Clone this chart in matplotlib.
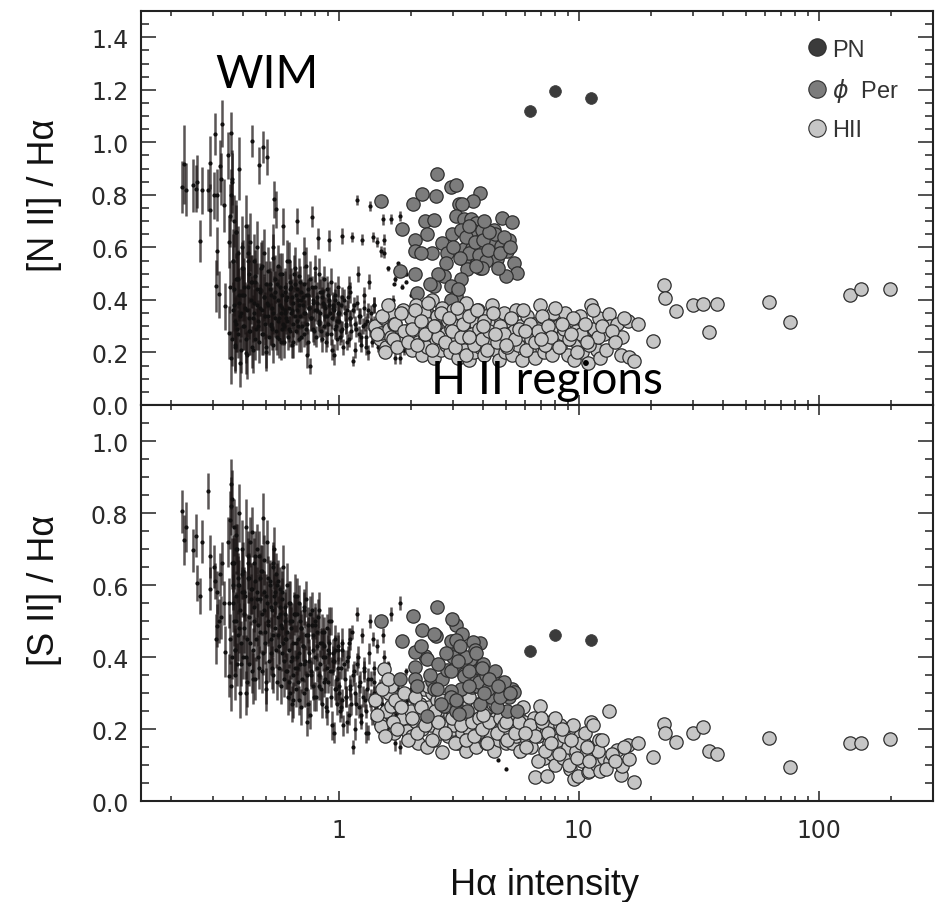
import matplotlib
matplotlib.use("Agg")
import matplotlib.pyplot as plt
from matplotlib.lines import Line2D
from matplotlib.ticker import FixedLocator, MultipleLocator, LogLocator, NullFormatter, FormatStrFormatter

# ---------------- data ----------------
# WIM sight lines: H-alpha intensity, [N II]/Ha (+err), [S II]/Ha (+err)
wim_x = [0.222,0.226,0.232,0.246,0.254,0.258,0.264,0.270,0.286,0.290,0.292,0.302,0.305,0.310,0.320,0.322,0.326,0.333,0.335,0.307,0.312,0.318,
         0.345,0.348,0.350,0.352,0.355,0.357,0.358,0.360,0.362,0.365,0.368,0.370,0.372,0.375,0.378,0.380,0.385,0.390,0.395,0.400,
         0.405,0.41,0.415,0.42,0.425,0.43,0.435,0.44,0.445,0.45,0.455,0.46,0.465,0.47,0.475,0.48,0.485,0.49,0.495,0.50,
         0.505,0.51,0.515,0.52,0.525,0.53,0.535,0.54,0.545,0.55,0.555,0.56,0.565,0.57,0.575,0.58,0.585,0.59,0.595,0.60,
         0.605,0.61,0.62,0.625,0.63,0.64,0.645,0.65,0.66,0.665,0.67,0.68,0.685,0.69,0.70,0.71,0.715,0.72,0.73,0.74,
         0.745,0.75,0.76,0.77,0.775,0.78,0.79,0.80,0.81,0.82,0.83,0.84,0.85,0.86,0.87,0.88,0.89,0.90,0.91,0.92,
         0.935,0.95,0.96,0.975,0.99,
         1.0,1.02,1.036,1.05,1.07,1.08,1.1,1.12,1.14,1.145,1.16,1.18,1.19,1.2,1.22,1.24,1.25,1.27,1.29,1.3,
         1.32,1.34,1.35,1.37,1.39,1.4,1.42,1.45,1.47,1.49,
         1.5,1.53,1.54,1.545,1.57,1.6,1.62,1.66,1.68,1.71,1.72,1.75,1.78,1.8,1.81,1.84,1.87,1.9,1.93,1.96,
         2.0,2.04,2.08,2.13,2.18,
         4.3,4.6,5.0,5.6]
wim_nii = [0.830,0.916,0.820,0.836,0.824,0.850,0.624,0.818,0.818,0.923,0.742,0.798,1.030,0.586,0.910,0.860,1.071,0.760,0.376,0.453,0.800,0.421,
           0.950,0.275,0.620,0.450,0.800,1.037,0.860,0.250,0.550,0.700,0.380,0.320,0.480,0.660,0.290,0.580,0.420,0.350,0.520,0.300,
           0.42,0.199,0.36,0.55,0.28,0.47,1.005,0.33,0.39,0.25,0.44,0.30,0.912,0.37,0.52,0.27,0.983,0.41,0.34,0.22,
           0.944,0.38,0.46,0.31,0.29,0.60,0.35,0.783,0.43,0.745,0.26,0.40,0.33,0.50,0.24,0.37,0.68,0.30,0.45,0.35,
           0.40,0.32,0.55,0.28,0.45,0.36,0.24,0.50,0.34,0.42,0.70,0.30,0.38,0.47,0.26,0.41,0.35,0.58,0.29,0.19,
           0.44,0.37,0.148,0.33,0.717,0.40,0.28,0.52,0.36,0.634,0.31,0.43,0.25,0.39,0.48,0.34,0.27,0.42,0.628,0.35,
           0.21,0.38,0.192,0.30,0.45,
           0.35,0.28,0.643,0.40,0.31,0.24,0.45,0.33,0.64,0.167,0.38,0.29,0.78,0.50,0.34,0.26,0.63,0.42,0.31,0.22,
           0.36,0.47,0.757,0.30,0.64,0.38,0.27,0.62,0.33,0.24,
           0.585,0.707,0.63,0.58,0.30,0.52,0.25,0.709,0.40,0.177,0.48,0.33,0.27,0.719,0.177,0.45,0.22,0.50,0.36,0.28,
           0.42,0.31,0.24,0.38,0.26,
           0.30,0.28,0.25,0.27]
wim_nii_err = [0.10,0.15,0.10,0.10,0.09,0.10,0.08,0.09,0.08,0.10,0.10,0.09,0.08,0.09,0.10,0.10,0.09,0.10,0.09,0.10,0.10,0.09,
               0.09,0.10,0.10,0.10,0.10,0.08,0.10,0.10,0.10,0.10,0.10,0.09,0.10,0.10,0.09,0.10,0.10,0.09,0.10,0.09,
               0.10,0.08,0.10,0.10,0.09,0.10,0.06,0.09,0.10,0.08,0.10,0.09,0.07,0.09,0.10,0.08,0.06,0.09,0.09,0.08,
               0.07,0.08,0.09,0.08,0.08,0.09,0.08,0.07,0.08,0.07,0.07,0.08,0.07,0.08,0.07,0.07,0.07,0.07,0.07,0.07,
               0.07,0.06,0.07,0.06,0.07,0.06,0.06,0.07,0.06,0.06,0.05,0.06,0.06,0.06,0.06,0.06,0.05,0.06,0.06,0.05,
               0.06,0.05,0.03,0.05,0.04,0.05,0.05,0.05,0.05,0.04,0.05,0.05,0.05,0.05,0.05,0.05,0.05,0.05,0.04,0.05,
               0.04,0.05,0.04,0.04,0.04,
               0.04,0.04,0.03,0.04,0.04,0.03,0.04,0.03,0.02,0.02,0.03,0.03,0.02,0.03,0.03,0.03,0.02,0.03,0.03,0.03,
               0.03,0.03,0.02,0.03,0.02,0.03,0.03,0.02,0.03,0.03,
               0.02,0.02,0.02,0.02,0.03,0.01,0.03,0.02,0.02,0.02,0.01,0.02,0.02,0.02,0.02,0.01,0.02,0.01,0.02,0.02,
               0.01,0.02,0.02,0.01,0.02,
               0.005,0.005,0.005,0.005]
wim_sii = [0.805,0.725,0.762,0.697,0.737,0.607,0.570,0.721,0.860,0.680,0.590,0.651,0.610,0.487,0.630,0.510,0.660,0.550,0.415,0.450,0.580,0.500,
           0.720,0.348,0.550,0.450,0.820,0.880,0.660,0.400,0.600,0.760,0.500,0.420,0.570,0.700,0.380,0.620,0.480,0.440,0.580,0.400,
           0.52,0.30,0.45,0.62,0.38,0.56,0.747,0.42,0.50,0.34,0.58,0.40,0.68,0.47,0.64,0.36,0.785,0.53,0.44,0.31,
           0.72,0.49,0.60,0.41,0.37,0.66,0.46,0.70,0.55,0.63,0.33,0.51,0.43,0.59,0.32,0.48,0.65,0.39,0.54,0.45,
           0.45,0.36,0.55,0.30,0.48,0.40,0.28,0.52,0.37,0.44,0.57,0.33,0.41,0.50,0.26,0.43,0.38,0.54,0.31,0.22,
           0.46,0.39,0.24,0.35,0.53,0.42,0.29,0.49,0.37,0.51,0.32,0.44,0.27,0.40,0.47,0.34,0.25,0.42,0.50,0.36,
           0.21,0.39,0.19,0.31,0.43,
           0.32,0.26,0.42,0.38,0.29,0.22,0.44,0.31,0.47,0.15,0.36,0.27,0.52,0.40,0.32,0.24,0.46,0.37,0.28,0.19,
           0.34,0.41,0.50,0.28,0.45,0.33,0.25,0.43,0.30,0.21,
           0.30,0.46,0.40,0.36,0.24,0.38,0.20,0.52,0.32,0.16,0.34,0.26,0.22,0.55,0.15,0.33,0.19,0.36,0.28,0.21,
           0.31,0.24,0.17,0.27,0.20,
           0.13,0.115,0.09,0.125]
wim_sii_err = [0.06,0.07,0.07,0.06,0.06,0.05,0.05,0.06,0.05,0.06,0.06,0.06,0.05,0.06,0.06,0.06,0.06,0.06,0.07,0.07,0.06,0.06,
               0.07,0.06,0.07,0.07,0.08,0.07,0.07,0.06,0.07,0.08,0.07,0.06,0.07,0.07,0.06,0.07,0.07,0.06,0.07,0.06,
               0.07,0.06,0.07,0.07,0.06,0.07,0.07,0.06,0.07,0.06,0.07,0.06,0.07,0.06,0.07,0.06,0.07,0.06,0.06,0.06,
               0.06,0.06,0.06,0.06,0.06,0.06,0.06,0.06,0.06,0.06,0.05,0.06,0.05,0.06,0.05,0.05,0.06,0.05,0.05,0.05,
               0.06,0.05,0.06,0.05,0.06,0.05,0.05,0.06,0.05,0.05,0.05,0.05,0.05,0.05,0.05,0.05,0.05,0.05,0.05,0.04,
               0.05,0.04,0.04,0.04,0.05,0.04,0.04,0.05,0.04,0.05,0.04,0.04,0.04,0.04,0.04,0.04,0.04,0.04,0.04,0.04,
               0.04,0.04,0.03,0.04,0.04,
               0.04,0.03,0.03,0.04,0.03,0.03,0.04,0.03,0.02,0.02,0.03,0.03,0.02,0.03,0.03,0.03,0.02,0.03,0.03,0.03,
               0.03,0.03,0.02,0.03,0.02,0.03,0.03,0.02,0.03,0.03,
               0.02,0.02,0.02,0.02,0.02,0.01,0.02,0.02,0.02,0.02,0.01,0.02,0.02,0.02,0.02,0.01,0.02,0.01,0.02,0.02,
               0.01,0.02,0.02,0.01,0.02,
               0.005,0.005,0.005,0.005]

# second batch of WIM sight lines (the dense band)
wimb_x = [0.362,0.366,0.371,0.374,0.377,0.382,0.386,0.388,0.392,0.397,
          0.402,0.407,0.412,0.417,0.422,0.427,0.432,0.437,0.442,0.447,
          0.452,0.457,0.462,0.467,0.472,0.477,0.482,0.487,0.492,0.497,
          0.502,0.508,0.513,0.518,0.523,0.528,0.533,0.538,0.543,0.548,
          0.553,0.558,0.563,0.568,0.573,0.578,0.583,0.588,0.593,0.598,
          0.603,0.608,0.614,0.618,0.623,0.628,0.634,0.638,0.643,0.648,
          0.655,0.662,0.668,0.673,0.678,0.683,0.688,0.695,0.703,0.708,
          0.718,0.725,0.733,0.738,0.748,0.755,0.765,0.772,0.785,0.795,
          0.805,0.815,0.825,0.835,0.845,0.855,0.865,0.875,0.885,0.895,
          0.905,0.915,0.928,0.94,0.955,0.965,0.97,0.98,0.985,0.995,
          1.005,1.015,1.025,1.035,1.045,1.06,1.075,1.09,1.105,1.115,
          1.13,1.15,1.165,1.175,1.195,1.21,1.23,1.245,1.26,1.28,
          1.295,1.31,1.33,1.345,1.36,1.38,1.40,1.41,1.43,1.46,
          1.48,1.51,1.55,1.58,1.61,1.64,1.67,1.70,1.73,1.76,
          1.79,1.82,1.85,1.88,1.91,1.64,1.70,1.76,1.84,1.90]
wimb_nii = [0.36,0.44,0.23,0.31,0.48,0.27,0.39,0.34,0.21,0.42,
            0.30,0.37,0.25,0.45,0.33,0.28,0.40,0.22,0.35,0.47,
            0.29,0.38,0.32,0.24,0.43,0.36,0.27,0.41,0.31,0.20,
            0.39,0.34,0.26,0.44,0.30,0.37,0.23,0.41,0.33,0.28,
            0.46,0.32,0.25,0.38,0.35,0.29,0.42,0.31,0.24,0.36,
            0.33,0.41,0.26,0.37,0.29,0.44,0.35,0.23,0.39,0.31,
            0.46,0.28,0.36,0.32,0.40,0.25,0.34,0.43,0.30,0.38,
            0.27,0.35,0.42,0.31,0.24,0.37,0.33,0.45,0.29,0.36,
            0.26,0.39,0.32,0.35,0.28,0.41,0.30,0.37,0.24,0.34,
            0.31,0.38,0.27,0.33,0.36,0.29,0.40,0.32,0.25,0.35,
            0.32,0.26,0.38,0.29,0.22,0.35,0.30,0.41,0.25,0.33,
            0.28,0.36,0.21,0.31,0.39,0.27,0.34,0.23,0.30,0.37,
            0.26,0.32,0.20,0.29,0.35,0.24,0.31,0.38,0.27,0.22,
            0.33,0.28,0.24,0.31,0.26,0.35,0.22,0.29,0.25,0.32,
            0.23,0.30,0.27,0.21,0.28,0.40,0.46,0.54,0.52,0.47]
wimb_nii_err = [0.11,0.10,0.10,0.11,0.10,0.09,0.10,0.10,0.09,0.10,
                0.09,0.10,0.09,0.09,0.08,0.09,0.09,0.08,0.09,0.09,
                0.08,0.09,0.08,0.08,0.09,0.08,0.08,0.08,0.08,0.07,
                0.08,0.08,0.07,0.08,0.07,0.08,0.07,0.08,0.07,0.07,
                0.07,0.07,0.07,0.07,0.07,0.06,0.07,0.07,0.06,0.07,
                0.06,0.06,0.05,0.06,0.05,0.06,0.06,0.05,0.06,0.05,
                0.06,0.05,0.05,0.05,0.05,0.05,0.05,0.05,0.05,0.05,
                0.05,0.05,0.05,0.04,0.05,0.04,0.05,0.04,0.05,0.04,
                0.04,0.04,0.04,0.04,0.04,0.04,0.04,0.04,0.04,0.04,
                0.04,0.04,0.04,0.04,0.03,0.04,0.04,0.03,0.04,0.04,
                0.04,0.03,0.04,0.03,0.03,0.03,0.03,0.04,0.03,0.03,
                0.03,0.03,0.03,0.03,0.03,0.03,0.03,0.03,0.03,0.03,
                0.03,0.03,0.03,0.03,0.03,0.02,0.03,0.03,0.02,0.02,
                0.02,0.02,0.02,0.02,0.02,0.02,0.02,0.02,0.02,0.02,
                0.02,0.02,0.02,0.02,0.02,0.005,0.005,0.005,0.005,0.005]
wimb_sii = [0.55,0.66,0.42,0.50,0.70,0.46,0.60,0.53,0.38,0.63,
            0.48,0.57,0.40,0.66,0.51,0.44,0.59,0.36,0.54,0.68,
            0.45,0.56,0.49,0.37,0.62,0.52,0.41,0.58,0.47,0.33,
            0.55,0.50,0.39,0.61,0.45,0.53,0.35,0.57,0.48,0.42,
            0.60,0.46,0.37,0.52,0.49,0.41,0.56,0.44,0.34,0.50,
            0.36,0.47,0.29,0.42,0.33,0.50,0.39,0.27,0.44,0.35,
            0.52,0.31,0.40,0.37,0.45,0.28,0.38,0.48,0.34,0.43,
            0.30,0.39,0.46,0.35,0.27,0.41,0.36,0.49,0.32,0.40,
            0.29,0.43,0.35,0.38,0.31,0.44,0.33,0.40,0.26,0.37,
            0.33,0.41,0.29,0.36,0.39,0.31,0.42,0.34,0.27,0.37,
            0.30,0.25,0.37,0.28,0.21,0.34,0.29,0.40,0.24,0.32,
            0.27,0.35,0.20,0.30,0.38,0.26,0.33,0.22,0.29,0.36,
            0.25,0.31,0.19,0.28,0.34,0.23,0.30,0.37,0.26,0.21,
            0.32,0.27,0.23,0.30,0.25,0.33,0.20,0.28,0.24,0.31,
            0.22,0.29,0.26,0.18,0.27,0.30,0.25,0.33,0.28,0.23]
wimb_sii_err = [0.08,0.07,0.07,0.08,0.07,0.07,0.07,0.07,0.06,0.07,
                0.07,0.07,0.06,0.07,0.07,0.06,0.07,0.06,0.07,0.07,
                0.06,0.07,0.06,0.06,0.07,0.06,0.06,0.06,0.06,0.06,
                0.06,0.06,0.06,0.06,0.06,0.06,0.05,0.06,0.06,0.05,
                0.06,0.05,0.05,0.06,0.05,0.05,0.06,0.05,0.05,0.05,
                0.05,0.05,0.05,0.05,0.05,0.05,0.05,0.05,0.05,0.05,
                0.05,0.05,0.05,0.04,0.05,0.04,0.05,0.04,0.04,0.04,
                0.04,0.04,0.04,0.04,0.04,0.04,0.04,0.04,0.04,0.04,
                0.04,0.04,0.04,0.04,0.04,0.04,0.04,0.04,0.03,0.04,
                0.03,0.04,0.03,0.04,0.03,0.03,0.04,0.03,0.03,0.03,
                0.03,0.03,0.03,0.03,0.03,0.03,0.03,0.03,0.03,0.03,
                0.03,0.03,0.03,0.03,0.03,0.03,0.03,0.02,0.03,0.03,
                0.02,0.03,0.02,0.02,0.02,0.02,0.02,0.02,0.02,0.02,
                0.02,0.02,0.02,0.02,0.02,0.02,0.02,0.02,0.02,0.02,
                0.02,0.02,0.02,0.02,0.02,0.01,0.01,0.01,0.01,0.01]

# third batch of WIM sight lines (upper part of the band, long error bars)
wimc_x = [0.352,0.356,0.361,0.364,0.369,0.373,0.379,0.384,0.389,0.394,
          0.399,0.404,0.409,0.414,0.419,0.424,0.429,0.434,0.439,0.444,
          0.449,0.458,0.468,0.478,0.488,0.498,0.51,0.52,0.532,0.545,
          0.558,0.57,0.582,0.595,0.61,0.625,0.64,0.655,0.67,0.685,
          0.70,0.715,0.73,0.745,0.76,0.778,0.795,0.812,0.83,0.85,
          0.87,0.89,0.91,0.93,0.95,0.97,0.99,1.03,1.08,1.12]
wimc_nii = [0.72,0.18,0.85,0.55,0.22,0.66,0.48,0.90,0.16,0.60,
            0.52,0.45,0.68,0.19,0.58,0.50,0.62,0.47,0.21,0.55,
            0.49,0.60,0.44,0.53,0.58,0.46,0.51,0.42,0.56,0.48,
            0.53,0.45,0.50,0.43,0.55,0.47,0.41,0.52,0.44,0.49,
            0.40,0.46,0.53,0.42,0.48,0.39,0.45,0.41,0.50,0.43,
            0.38,0.44,0.40,0.47,0.37,0.42,0.39,0.41,0.36,0.43]
wimc_nii_err = [0.12,0.10,0.12,0.12,0.10,0.12,0.11,0.12,0.09,0.12,
                0.11,0.11,0.12,0.09,0.11,0.11,0.11,0.10,0.09,0.10,
                0.10,0.10,0.10,0.10,0.09,0.09,0.09,0.09,0.09,0.09,
                0.08,0.08,0.08,0.08,0.08,0.08,0.07,0.08,0.07,0.07,
                0.07,0.07,0.07,0.06,0.07,0.06,0.06,0.06,0.06,0.06,
                0.06,0.05,0.05,0.05,0.05,0.05,0.05,0.04,0.04,0.04]
wimc_sii = [0.78,0.32,0.84,0.66,0.35,0.74,0.60,0.80,0.30,0.70,
            0.64,0.58,0.76,0.33,0.68,0.62,0.72,0.59,0.34,0.66,
            0.61,0.70,0.56,0.64,0.67,0.57,0.62,0.54,0.65,0.58,
            0.61,0.54,0.58,0.52,0.60,0.55,0.50,0.57,0.52,0.55,
            0.48,0.53,0.56,0.49,0.52,0.46,0.50,0.47,0.53,0.47,
            0.43,0.48,0.44,0.50,0.41,0.45,0.42,0.44,0.39,0.45]
wimc_sii_err = [0.08,0.07,0.08,0.08,0.07,0.08,0.08,0.08,0.07,0.08,
                0.08,0.07,0.08,0.07,0.07,0.07,0.07,0.07,0.07,0.07,
                0.07,0.07,0.07,0.07,0.07,0.06,0.06,0.06,0.06,0.06,
                0.06,0.06,0.06,0.06,0.06,0.06,0.05,0.06,0.05,0.05,
                0.05,0.05,0.05,0.05,0.05,0.05,0.05,0.05,0.05,0.05,
                0.05,0.04,0.04,0.04,0.04,0.04,0.04,0.04,0.03,0.03]

# phi Per region
per_x = [1.50,2.56,2.05,2.23,2.54,2.93,3.07,3.88,3.64,3.16,3.28,2.30,2.50,3.07,3.33,3.55,3.72,4.81,5.26,1.83,
         2.09,2.34,2.98,3.22,3.61,3.97,4.44,5.12,2.09,2.46,2.70,2.84,3.33,3.61,3.97,4.37,4.73,5.04,5.37,5.55,
         4.96,3.33,3.78,4.30,4.58,3.44,3.90,3.22,1.81,2.09,2.13,2.50,2.75,2.93,3.07,2.93,2.66,3.17,3.07,2.34,2.58,
         3.4,3.5,3.7,3.85,4.0,4.1,4.2,4.5,4.7,3.0,3.2,2.8,2.6,4.9,5.2,3.95,4.25,2.4,2.2,3.5,3.75,4.05,2.95,3.15,4.6]
per_nii = [0.776,0.878,0.764,0.802,0.795,0.830,0.836,0.808,0.776,0.764,0.764,0.700,0.706,0.720,0.707,0.707,0.694,0.713,0.696,0.669,
           0.630,0.650,0.650,0.668,0.668,0.668,0.668,0.630,0.586,0.580,0.618,0.580,0.592,0.599,0.599,0.611,0.605,0.586,0.542,0.503,
           0.490,0.554,0.560,0.560,0.554,0.516,0.523,0.478,0.510,0.497,0.427,0.453,0.490,0.453,0.414,0.376,0.338,0.338,0.288,0.351,0.275,
           0.64,0.58,0.62,0.57,0.63,0.55,0.59,0.65,0.58,0.60,0.56,0.54,0.50,0.64,0.60,0.52,0.66,0.46,0.58,0.68,0.53,0.70,0.40,0.44,0.52]
per_sii = [0.500,0.538,0.515,0.476,0.459,0.444,0.489,0.438,0.443,0.422,0.464,0.404,0.464,0.448,0.367,0.394,0.362,0.325,0.311,0.445,
           0.413,0.394,0.506,0.376,0.339,0.378,0.334,0.290,0.371,0.334,0.339,0.365,0.353,0.316,0.339,0.316,0.311,0.251,0.302,0.251,
           0.300,0.348,0.320,0.290,0.260,0.251,0.270,0.311,0.339,0.339,0.320,0.311,0.265,0.306,0.251,0.290,0.270,0.242,0.280,0.237,0.311,
           0.40,0.36,0.42,0.33,0.38,0.35,0.31,0.36,0.29,0.40,0.43,0.41,0.38,0.33,0.30,0.37,0.34,0.35,0.43,0.32,0.41,0.30,0.36,0.39,0.32]

# H II regions
hii_x = [1.42,1.48,1.50,1.54,1.58,1.62,1.65,1.66,1.70,1.78,1.85,1.93,
         2.0,2.03,2.06,2.1,2.14,2.18,2.22,2.26,2.3,2.34,2.38,2.42,2.46,2.5,2.54,2.58,2.62,2.66,2.7,2.75,2.8,2.85,2.9,2.95,2.99,
         3.02,3.08,3.14,3.2,3.26,3.32,3.38,3.44,3.5,3.56,3.62,3.68,3.75,3.82,3.9,3.97,4.05,4.12,4.2,4.28,4.36,4.44,4.52,4.6,4.68,4.76,4.84,4.9,4.95,5.0,
         5.1,5.2,5.3,5.4,5.5,5.6,5.7,5.8,5.95,6.1,6.2,6.35,6.5,6.6,6.75,6.9,7.0,7.15,7.3,7.4,7.5,7.6,7.75,7.85,8.0,
         8.2,8.4,8.6,8.8,9.0,9.2,9.4,9.6,9.8,9.9,10.1,10.3,10.5,10.7,10.9,11.0,11.3,11.6,11.9,12.2,12.3,12.7,
         13.4,13.5,14.5,15.0,15.2,16.0,16.2,17.1,17.6,
         20.4,22.8,22.9,25.4,30.0,33.1,34.9,37.8,61.9,75.9,135.0,150.6,198.0,
         1.45,1.52,1.56,1.60,1.68,1.72,1.75,1.82,1.88,1.95,
         2.02,2.08,2.12,2.2,2.28,2.36,2.44,2.52,2.6,2.68,
         2.78,2.88,2.97,3.05,3.12,3.22,3.3,3.4,3.48,3.58,
         3.66,3.78,3.86,3.94,4.02,4.15,4.25,4.4,4.55,4.72,
         4.88,5.05,5.25,5.45,5.65,5.85,6.05,6.3,6.55,6.8,
         7.05,7.25,7.45,7.7,7.95,8.3,8.7,9.1,9.5,9.85,
         10.2,10.6,11.1,11.5,12.0,12.5,13.0,13.8,14.2,15.5,
         3.5,4.0,4.5,5.0,2.5,6.0,7.0,8.5,9.3,10.8]
hii_nii = [0.30,0.25,0.275,0.33,0.22,0.29,0.345,0.26,0.31,0.24,0.36,0.28,
           0.33,0.21,0.27,0.38,0.24,0.30,0.19,0.35,0.26,0.22,0.31,0.28,0.40,0.18,0.25,0.34,0.29,0.21,0.37,0.27,0.23,0.32,0.20,0.29,0.36,
           0.24,0.30,0.18,0.35,0.27,0.21,0.39,0.29,0.17,0.33,0.25,0.20,0.31,0.36,0.22,0.28,0.19,0.34,0.26,0.23,0.38,0.30,0.21,0.27,0.17,0.32,0.24,0.35,0.20,0.29,
           0.26,0.32,0.19,0.28,0.36,0.23,0.30,0.17,0.27,0.34,0.21,0.25,0.31,0.18,0.29,0.38,0.24,0.20,0.33,0.27,0.22,0.30,0.19,0.35,0.26,
           0.30,0.22,0.27,0.35,0.19,0.25,0.32,0.17,0.28,0.23,0.34,0.20,0.26,0.30,0.16,0.24,0.38,0.29,0.21,0.33,0.18,0.27,
           0.345,0.30,0.307,0.192,0.26,0.319,0.183,0.167,0.309,
           0.243,0.455,0.408,0.356,0.379,0.386,0.276,0.386,0.394,0.317,0.420,0.443,0.443,
           0.27,0.34,0.20,0.38,0.25,0.31,0.22,0.35,0.28,0.24,
           0.29,0.36,0.23,0.32,0.27,0.39,0.21,0.30,0.26,0.35,
           0.24,0.33,0.28,0.22,0.37,0.26,0.31,0.19,0.34,0.27,
           0.23,0.36,0.29,0.25,0.32,0.21,0.28,0.35,0.24,0.30,
           0.27,0.22,0.33,0.25,0.29,0.36,0.21,0.31,0.24,0.28,
           0.34,0.23,0.30,0.26,0.37,0.22,0.29,0.25,0.33,0.20,
           0.27,0.31,0.23,0.36,0.26,0.30,0.21,0.28,0.24,0.33,
           0.26,0.30,0.27,0.23,0.30,0.28,0.25,0.31,0.27,0.24]
hii_sii = [0.28,0.22,0.209,0.367,0.25,0.30,0.265,0.32,0.19,0.27,0.23,0.195,
           0.25,0.18,0.29,0.22,0.16,0.27,0.20,0.31,0.24,0.15,0.26,0.21,0.30,0.17,0.23,0.28,0.19,0.25,0.135,0.22,0.27,0.18,0.24,0.29,0.20,
           0.21,0.27,0.16,0.24,0.19,0.23,0.14,0.26,0.20,0.17,0.25,0.22,0.15,0.27,0.18,0.21,0.24,0.16,0.22,0.19,0.26,0.14,0.23,0.20,0.17,0.25,0.21,0.18,0.24,0.16,
           0.20,0.23,0.16,0.21,0.18,0.24,0.14,0.19,0.22,0.17,0.20,0.15,0.23,0.066,0.18,0.265,0.21,0.12,0.19,0.07,0.16,0.22,0.13,0.18,0.10,
           0.17,0.21,0.12,0.19,0.15,0.09,0.20,0.061,0.14,0.069,0.18,0.11,0.16,0.13,0.08,0.084,0.22,0.15,0.10,0.17,0.084,0.12,
           0.251,0.112,0.143,0.073,0.097,0.157,0.117,0.054,0.160,
           0.123,0.214,0.189,0.163,0.189,0.205,0.138,0.132,0.175,0.094,0.160,0.160,0.172,
           0.24,0.31,0.18,0.34,0.22,0.28,0.20,0.26,0.30,0.17,
           0.23,0.29,0.19,0.26,0.21,0.32,0.17,0.25,0.22,0.28,
           0.19,0.26,0.23,0.16,0.28,0.21,0.25,0.17,0.27,0.22,
           0.18,0.26,0.23,0.20,0.25,0.16,0.22,0.27,0.19,0.23,
           0.21,0.17,0.24,0.19,0.22,0.26,0.15,0.21,0.18,0.11,
           0.22,0.14,0.19,0.16,0.23,0.13,0.18,0.10,0.21,0.12,
           0.16,0.19,0.11,0.21,0.14,0.17,0.09,0.13,0.11,0.15,
           0.29,0.24,0.27,0.22,0.33,0.19,0.23,0.20,0.17,0.15]

# planetary nebula
pn_x = [6.3, 8.0, 11.3]
pn_nii = [1.120, 1.195, 1.168]
pn_sii = [0.417, 0.462, 0.448]

legend_labels = ["PN", r"$\phi$  Per", "HII"]
top_yticks = [0.0, 0.2, 0.4, 0.6, 0.8, 1.0, 1.2, 1.4]
bot_yticks = [0.0, 0.2, 0.4, 0.6, 0.8, 1.0]
x_major = [1, 10, 100]
x_major_labels = ["1", "10", "100"]

# ---------------- styling ----------------
C_PN = "#3b3b3b"
C_PER = "#7c7c7c"
C_HII = "#c6c6c6"
C_EDGE = "#2e2e2e"
TXT = "#2a2a2a"
C_BAR = (0.10, 0.08, 0.08, 0.72)


def fit(*cols):
    n = min(len(c) for c in cols)
    return [list(c[:n]) for c in cols]


b1 = fit(wim_x, wim_nii, wim_nii_err, wim_sii, wim_sii_err)
b2 = fit(wimb_x, wimb_nii, wimb_nii_err, wimb_sii, wimb_sii_err)
b3 = fit(wimc_x, wimc_nii, wimc_nii_err, wimc_sii, wimc_sii_err)
WX, WN, WNE, WS, WSE = [b1[i] + b2[i] + b3[i] for i in range(5)]
PX, PN_, PS = fit(per_x, per_nii, per_sii)
HX, HN, HS = fit(hii_x, hii_nii, hii_sii)

fig = plt.figure(figsize=(9.43, 9.03), dpi=100)
fig.patch.set_facecolor("white")
ax1 = fig.add_axes([0.1495, 0.5504, 0.8399, 0.4363])
ax2 = fig.add_axes([0.1495, 0.1118, 0.8399, 0.4385], sharex=ax1)


def draw(ax, wy, wyerr, pery, hiiy, pny, hii_on_top):
    ax.errorbar(WX, wy, yerr=wyerr, fmt="o", ms=2.0, mfc="#111010", mec="#111010",
                ecolor=C_BAR, elinewidth=1.8, capsize=0, zorder=2)
    ax.scatter(PX, pery, s=92, c=C_PER, edgecolors=C_EDGE, linewidths=0.9,
               zorder=3 if hii_on_top else 4)
    ax.scatter(HX, hiiy, s=92, c=C_HII, edgecolors=C_EDGE, linewidths=0.9,
               zorder=4 if hii_on_top else 3)
    ax.scatter(pn_x, pny, s=72, c=C_PN, edgecolors=C_PN, linewidths=0.5, zorder=5)


draw(ax1, WN, WNE, PN_, HN, pn_nii, True)
draw(ax2, WS, WSE, PS, HS, pn_sii, False)

for ax in (ax1, ax2):
    ax.set_xscale("log")
    ax.set_xlim(0.15, 300)
    ax.xaxis.set_major_locator(FixedLocator(x_major))
    ax.xaxis.set_minor_locator(LogLocator(base=10, subs=(2, 3, 4, 5, 6, 7, 8, 9), numticks=20))
    ax.xaxis.set_minor_formatter(NullFormatter())
    ax.yaxis.set_minor_locator(MultipleLocator(0.05))
    ax.yaxis.set_major_formatter(FormatStrFormatter("%.1f"))
    ax.tick_params(which="both", direction="in", top=True, right=True, width=1.1,
                   color="#222222", labelcolor=TXT)
    ax.tick_params(axis="y", which="major", length=11, labelsize=17, pad=9)
    ax.tick_params(axis="y", which="minor", length=5.5)
    ax.tick_params(axis="x", which="major", length=7.5, labelsize=17, pad=12)
    ax.tick_params(axis="x", which="minor", length=3.8)
    for sp in ax.spines.values():
        sp.set_linewidth(1.5)
        sp.set_color("#222222")

ax1.set_ylim(0, 1.5)
ax1.set_yticks(top_yticks)
ax1.tick_params(axis="x", labelbottom=False)
ax2.set_ylim(0, 1.1)
ax2.set_yticks(bot_yticks)
ax2.set_xticks(x_major)
ax2.set_xticklabels(x_major_labels)
for ax in (ax1, ax2):
    for lab in ax.get_xticklabels() + ax.get_yticklabels():
        lab.set_family("DejaVu Sans")

# labels
LBL = ["Liberation Sans", "DejaVu Sans"]
fig.text(45 / 943, 1 - 195 / 903, "[N II] / Hα", rotation=90, ha="center", va="center",
         fontsize=26, family=LBL, color="#111111")
fig.text(45 / 943, 1 - 590 / 903, "[S II] / Hα", rotation=90, ha="center", va="center",
         fontsize=26, family=LBL, color="#111111")
fig.text(545 / 943, 1 - 895 / 903, "Hα intensity", ha="center", va="baseline",
         fontsize=26, family=LBL, color="#111111")

GILL = ["Lato", "DejaVu Sans"]
ax1.text(0.307, 1.21, "WIM", fontsize=33, family=GILL, color="black", ha="left", va="baseline", zorder=6)
ax1.text(2.42, 0.045, "H II regions", fontsize=33, family=GILL, color="black", ha="left",
         va="baseline", zorder=6, clip_on=False)

handles = [Line2D([], [], ls="none", marker="o", ms=12.5, mfc=c, mec=C_EDGE, mew=0.8)
           for c in (C_PN, C_PER, C_HII)]
leg = ax1.legend(handles, legend_labels, loc="upper left", bbox_to_anchor=(0.8413, 0.93),
                 frameon=False, handlelength=0.8, handletextpad=0.25, labelspacing=0.65,
                 borderpad=0, borderaxespad=0, prop={"family": LBL, "size": 17})
for t in leg.get_texts():
    t.set_color("#333333")

fig.savefig("out.png", dpi=100, facecolor="white")
